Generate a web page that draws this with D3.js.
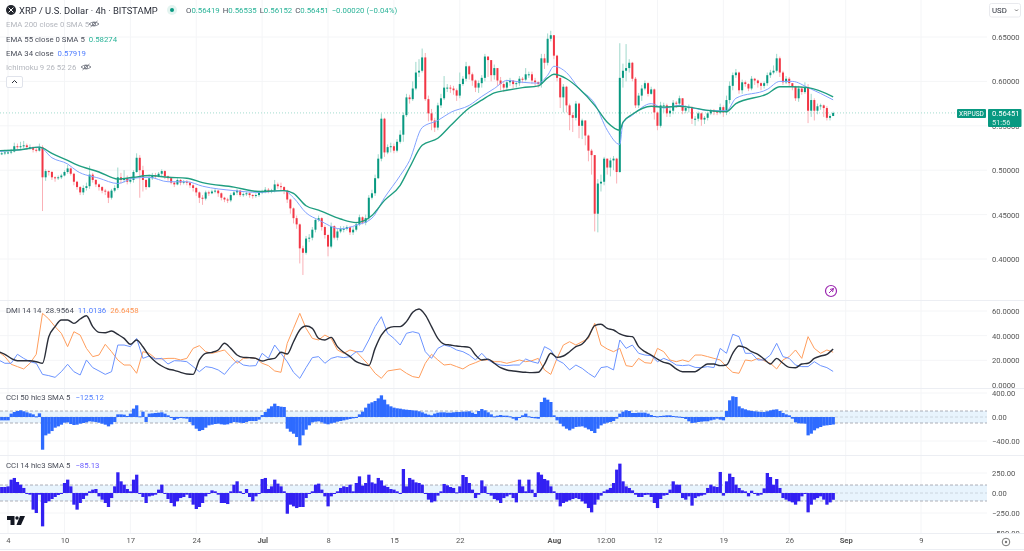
<!DOCTYPE html>
<html>
<head>
<meta charset="utf-8">
<style>
  html, body { margin: 0; padding: 0; background: #fff; }
  svg { display: block; filter: blur(.35px); }
  text { font-family: Roboto, sans-serif; }
  .axis text { font-size: 7.6px; fill: #555; }
  .axis .domain { display: none; }
  .leg { font-size: 7.8px; }
</style>
</head>
<body>
<svg id="chart" width="1024" height="551"></svg>
<script src="https://cdn.jsdelivr.net/npm/d3@7/dist/d3.min.js"></script>
<script>
// 8 hour bars from 3 Jun 2024
const closes = [.519,.519,.520,.520,.521,.527,.526,.527,.528,.526,
.526,.523,.522,.526,.492,.499,.498,.492,.491,.492,
.494,.498,.502,.496,.487,.481,.475,.480,.482,.495,
.489,.484,.481,.477,.476,.469,.477,.480,.492,.489,
.491,.487,.489,.498,.514,.500,.489,.481,.491,.494,
.493,.496,.499,.493,.491,.486,.484,.489,.486,.487,
.486,.483,.480,.475,.469,.468,.475,.474,.476,.477,
.474,.469,.467,.466,.472,.475,.477,.472,.473,.474,
.472,.471,.472,.475,.476,.478,.477,.477,.484,.482,
.481,.477,.467,.457,.446,.439,.412,.407,.423,.424,
.433,.444,.446,.436,.427,.414,.437,.424,.431,.434,
.434,.436,.430,.433,.439,.447,.441,.446,.469,.474,
.491,.513,.558,.520,.526,.527,.522,.532,.540,.562,
.582,.580,.592,.610,.612,.627,.580,.564,.556,.548,
.573,.581,.593,.593,.592,.590,.584,.597,.603,.617,
.608,.601,.593,.598,.604,.628,.624,.607,.615,.601,
.597,.593,.599,.601,.597,.598,.603,.602,.608,.608,
.601,.599,.597,.626,.621,.648,.652,.629,.604,.582,
.594,.573,.562,.559,.575,.550,.556,.539,.522,.517,
.451,.485,.487,.513,.503,.511,.513,.498,.604,.612,
.615,.621,.603,.573,.584,.592,.598,.586,.591,.565,
.550,.573,.573,.564,.567,.576,.575,.581,.567,.570,
.571,.558,.558,.564,.557,.559,.564,.567,.566,.565,
.571,.565,.579,.595,.607,.610,.590,.599,.597,.592,
.603,.601,.598,.595,.598,.607,.610,.612,.626,.610,
.599,.603,.598,.594,.581,.592,.588,.593,.567,.579,
.567,.572,.573,.570,.559,.561,.5645];

const highs = [.522,.522,.523,.523,.524,.531,.530,.532,.533,.530,
.529,.527,.525,.530,.528,.501,.500,.499,.493,.494,
.496,.500,.506,.503,.497,.488,.482,.483,.486,.505,
.497,.490,.485,.482,.479,.477,.479,.483,.503,.497,
.500,.494,.492,.500,.519,.517,.505,.490,.495,.497,
.497,.498,.501,.500,.494,.492,.487,.491,.490,.489,
.489,.487,.484,.481,.476,.472,.477,.477,.478,.479,
.478,.475,.470,.469,.474,.477,.479,.478,.475,.476,
.475,.473,.474,.477,.478,.481,.480,.479,.489,.486,
.486,.482,.478,.468,.458,.449,.440,.415,.426,.428,
.436,.446,.449,.447,.438,.428,.441,.438,.434,.437,
.437,.438,.437,.436,.442,.450,.448,.450,.472,.478,
.495,.518,.564,.559,.529,.531,.530,.535,.545,.565,
.586,.585,.600,.622,.625,.637,.632,.584,.569,.559,
.576,.586,.606,.597,.596,.595,.592,.610,.606,.622,
.618,.610,.602,.601,.607,.631,.628,.621,.619,.612,
.605,.600,.602,.604,.601,.600,.606,.605,.615,.611,
.611,.604,.600,.631,.631,.654,.657,.652,.630,.604,
.597,.595,.575,.565,.578,.576,.558,.556,.540,.524,
.517,.490,.495,.515,.513,.514,.516,.514,.643,.620,
.642,.625,.622,.605,.587,.596,.601,.599,.594,.592,
.566,.577,.576,.575,.570,.579,.578,.584,.581,.573,
.574,.572,.561,.566,.565,.561,.566,.569,.569,.567,
.575,.573,.584,.600,.610,.614,.611,.602,.601,.598,
.606,.604,.602,.599,.600,.610,.613,.618,.631,.628,
.612,.606,.605,.598,.595,.595,.594,.599,.597,.586,
.581,.575,.575,.574,.572,.563,.566];

const lows = [.516,.517,.517,.518,.518,.520,.523,.524,.525,.523,
.523,.520,.520,.521,.454,.488,.494,.489,.487,.489,
.490,.493,.496,.494,.483,.478,.472,.472,.477,.479,
.486,.481,.477,.474,.472,.463,.467,.475,.478,.485,
.486,.484,.485,.486,.497,.469,.476,.478,.480,.489,
.490,.492,.493,.490,.488,.484,.481,.483,.483,.484,
.483,.480,.476,.471,.463,.461,.466,.471,.473,.474,
.470,.466,.464,.463,.464,.471,.472,.470,.470,.471,
.469,.468,.469,.470,.473,.474,.474,.474,.475,.479,
.477,.473,.463,.451,.440,.434,.395,.382,.405,.419,
.421,.430,.442,.432,.423,.403,.412,.422,.421,.429,
.430,.432,.427,.427,.431,.437,.439,.438,.444,.467,
.471,.490,.510,.515,.518,.520,.519,.520,.530,.532,
.560,.575,.578,.590,.605,.610,.578,.555,.545,.543,
.545,.570,.579,.588,.587,.585,.578,.581,.595,.600,
.602,.595,.588,.587,.593,.600,.605,.600,.602,.595,
.590,.588,.590,.595,.592,.593,.595,.598,.600,.604,
.597,.594,.593,.593,.614,.618,.645,.625,.600,.570,
.565,.565,.545,.543,.556,.536,.535,.528,.510,.495,
.431,.430,.476,.483,.495,.493,.500,.485,.497,.593,
.600,.610,.600,.570,.570,.578,.590,.583,.585,.557,
.545,.548,.565,.560,.560,.563,.570,.572,.563,.564,
.565,.552,.550,.555,.550,.552,.556,.562,.562,.562,
.563,.560,.562,.575,.590,.604,.586,.586,.594,.589,
.590,.596,.593,.590,.592,.595,.604,.608,.610,.605,
.596,.597,.594,.590,.578,.577,.585,.586,.553,.560,
.556,.563,.568,.560,.556,.556,.5615];

// moving averages, read at these bars
const emaBars = [0,7,13,17,22,25,32,38,43,48,54,60,65,75,83,91,94,98,102,109,114,119,123,128,131,135,140,144,150,154,158,162,167,172,175,177,181,185,190,194,198,199,202,208,212,217,220,227,232,235,245,249,253,258,266];
const ema55 = [.522,.523,.526,.519,.511,.506,.498,.490,.492,.494,.492,.491,.486,.481,.476,.477,.474,.460,.455,
.445,.441,.449,.466,.483,.503,.528,.536,.550,.570,.579,.587,.590,.593,.595,.604,.608,.603,.592,.573,.554,.545,.554,.563,.572,.571,.572,.571,.567,.566,.575,.586,.594,.594,.593,.5827];
const ema34 = [.521,.523,.526,.514,.507,.499,.491,.485,.491,.492,.487,.487,.482,.477,.475,.477,.469,.452,.444,
.434,.438,.446,.469,.494,.511,.548,.556,.565,.573,.583,.592,.601,.599,.598,.607,.617,.610,.592,.575,.545,.529,.553,.562,.575,.570,.573,.571,.567,.567,.581,.591,.600,.600,.593,.5792];

// DMI, one reading every 2 bars
const adx = [27,24.9,21.6,19.7,19.7,19.7,18.9,17.6,39.2,47.3,52.7,52.7,50,53.5,56.2,47.3,42.7,42.4,43.8,41,37.8,33,36.5,31,23.8,18.9,15.4,13,11.9,10.3,8.9,8.6,20.3,25.7,26.5,28.4,33.8,29.7,24.3,22.4,22.2,21.6,19.5,20.8,21.6,26.5,25.1,
35.1,44.6,47.8,45.9,37.8,36.5,38.6,31.1,26.5,23,18.9,17,15.7,29.7,40.5,45.9,47.3,47.3,51.4,58.9,61.6,56.8,47.3,37.8,33.2,32.4,31.6,31.1,30.5,24.3,20.3,21,17.6,14,12.2,11.4,
10.8,10.3,10,10.3,17,25.7,22.4,23.5,27,31.1,33.2,39.2,48.1,49.2,45.9,44.6,41.4,39.7,39.2,31.1,27,24.3,21,18.4,17,13,10.8,10.8,10.8,14,17,17,15.7,16.2,25.7,31.6,30.3,27,24.9,21,17,21.6,17.6,14.3,14,17,17.6,21.6,23.5,24.9,29.2];
const diPlus = [20.3,17.6,17.6,24.9,21.6,18.9,17.6,8.6,7.6,6.2,10.8,16.8,10.8,8.1,20.3,14.1,11.4,8.6,10.8,32.4,32.4,31.1,37.8,21.6,23.5,21.1,21.6,17,19.7,19.5,18.9,14.9,10.8,14.9,14.1,12.2,8.6,14.9,19.7,16.2,15.4,15.7,25.7,21.6,32.4,25.7,18.9,
10.3,5.4,14.1,22.2,23,17.6,21.6,23,22.2,23,27,27,36.5,47.3,55.4,41.9,37.8,32.4,41.9,43.2,41.9,27,21.6,29.7,32.4,31.1,28.4,27,24.3,20.3,25.7,20.3,17.6,16.2,15.7,16.2,
16.2,21.1,18.9,17.6,31.1,28.4,20.3,17.6,12.2,16.2,13.5,9.5,6.2,14.1,14.9,12.2,36.5,29.7,32.4,25.7,24.3,23.8,18.9,21.6,19.5,16.2,15.7,16.2,14.3,14.1,14.9,14.1,29.7,25.7,41.1,39.2,25.7,25.7,20.3,20.3,24.3,33.8,23,21.6,16.2,14.9,14.9,18.9,15.7,14.1,11];
const diMinus = [27,23,16.8,14.9,13,17.6,24.9,58.1,53.5,47.3,41.9,31.1,43.2,40.5,29.7,23,24.3,33,27,20.3,16.2,16.2,9.5,27,25.7,21.6,21.1,21.6,21.6,20.3,21.6,29.7,31.9,27,25.7,27,28.4,23,17.6,21.6,22.2,21.6,17.6,15.7,11.4,10.3,33.8,
45.9,58.1,45.9,37.8,36.5,40.5,37.8,28.4,25.7,28.4,27,21.6,16.2,9.5,5.4,11.4,12.2,13,9.5,6.8,5.9,17.6,24.9,20.3,16.2,16.8,14.9,13,16.2,18.1,20.3,20.3,18.9,18.9,17.6,18.9,
20.3,18.9,19.7,21.6,12.2,8.6,21.6,32.4,35.1,32.4,35.1,37.8,50,32.4,29.2,27,29.7,15.7,14.9,21.6,18.1,17.6,29.7,27,20.3,18.9,20.3,18.9,24.3,24.3,23,21.6,20.3,14.9,10.3,9.5,20.3,19.5,21.6,19.7,17.6,13,20.3,23,28.4,21.6,39.2,29.7,25.7,28.4,26.6];

// CCI 50, one reading per bar
const cci50 = [-56,-56,-56,-56,56,83,100,111,95,78,
61,44,11,61,-545,-306,-278,-234,-178,-156,
-128,-95,-89,-117,-133,-128,-111,-100,-89,-72,
-78,-83,-95,-111,-128,-156,-122,-83,44,44,
39,17,56,139,195,11,89,-83,56,61,
67,72,78,56,28,-6,-50,-28,-11,-22,
-28,-83,-139,-195,-234,-217,-178,-139,-128,-117,
-111,-122,-128,-122,-100,-83,-89,-95,-100,-83,
-67,-67,-67,-44,33,83,139,178,222,183,
172,167,-195,-245,-278,-334,-473,-306,-211,-139,
-89,-78,-72,-89,-111,-122,-106,-95,-78,-67,
-56,-44,-33,-22,0,44,89,156,222,245,
267,311,361,289,211,178,156,145,139,128,
122,117,111,106,95,78,56,39,28,56,
72,78,78,72,72,78,83,83,89,89,
95,72,50,100,133,111,78,44,11,22,
33,22,22,11,-28,-56,0,28,56,11,
-11,-22,-28,250,322,289,250,28,-56,-111,
-156,-195,-222,-195,-167,-161,-156,-178,-206,-234,
-267,-195,-139,-111,-95,-83,-67,-28,56,89,
111,100,67,67,72,72,72,56,33,17,
11,17,22,28,28,17,11,6,0,-33,
-72,-100,-95,-83,-78,-72,-72,-56,-44,-28,
-44,-56,100,278,345,334,178,145,128,111,
100,95,89,83,83,95,111,122,128,100,
67,44,28,-28,-89,-106,-106,-111,-306,-278,
-222,-189,-167,-145,-139,-133,-125];

// CCI 14, one reading per bar
const cci14 = [75,75,75,83,167,188,138,104,63,0,
-21,-208,-250,-21,-417,-125,-104,-75,-50,-25,
-8,125,167,83,-146,-208,-125,-75,-33,21,
42,50,-42,-83,-125,-175,-63,83,259,146,
104,50,21,167,229,0,-50,-125,-42,-33,
-21,42,104,-8,-75,-125,-167,-104,-63,-50,
-21,-63,-146,-200,-175,-125,-42,0,33,21,
-21,-125,-125,-138,21,104,146,21,-8,50,
-50,-104,-42,-8,175,188,50,83,167,117,
83,21,-259,-146,-167,-188,-175,-175,-63,-8,
21,104,117,42,-42,-167,-42,-8,21,63,
83,75,104,21,125,208,92,125,229,133,
117,188,158,92,75,50,42,21,-8,300,
83,188,167,133,125,104,0,-83,-117,-104,
-33,21,113,96,75,63,8,83,225,200,
125,42,-63,-21,158,83,0,-33,-75,-92,
-125,-63,-42,-21,-63,-117,167,83,21,167,
42,-50,259,229,175,158,83,21,-83,-167,
-125,-108,-92,-75,-63,-75,-104,-133,-188,-242,
-146,-83,-33,21,42,63,125,292,367,146,
83,63,33,-21,-50,-50,-25,-21,-50,-125,
-188,-75,-33,-25,42,146,104,104,-63,-83,
-42,-158,-63,-42,-33,-21,63,104,83,75,
263,-33,146,242,200,104,63,33,21,-42,
29,0,-33,-21,58,250,200,104,175,63,
-63,-83,-104,-117,-146,-104,-42,0,-242,-146,
-83,-63,-42,-83,-146,-117,-85];

// axis ticks
const priceTicks = [.40,.45,.50,.55,.60,.65];
const dmiTicks = [0,20,40,60];
const cci50Ticks = [-400,0,400];
const cci14Ticks = [-500,-250,0,250];
const timeTicks = [[2024,5,4],[2024,5,10],[2024,5,17],[2024,5,24],[2024,6,1],[2024,6,8],[2024,6,15],[2024,6,22],[2024,7,1],[2024,7,6,12],[2024,7,12],[2024,7,19],[2024,7,26],[2024,8,1],[2024,8,9]]
  .map(d => new Date(Date.UTC(...d)));

const lastPrice = .56451;
const chartRight = 987;
const green = '#089981', red = '#f23645';

const svg = d3.select('#chart');
const barTime = i => new Date(Date.UTC(2024, 5, 3) + i * 8 * 3600e3);

const x = d3.scaleUtc()
  .domain([new Date(Date.UTC(2024, 5, 4)), new Date(Date.UTC(2024, 8, 9))])
  .range([8, 921]);
const yPrice = d3.scaleLinear().domain([.40, .65]).range([259, 37]);
const yDmi = d3.scaleLinear().domain([0, 60]).range([385, 311]);
const yCci50 = d3.scaleLinear().domain([-400, 400]).range([441, 393]);
const yCci14 = d3.scaleLinear().domain([-250, 250]).range([513, 473]);

// pane clips
const defs = svg.append('defs');
defs.append('clipPath').attr('id', 'clip-cci14-axis').append('rect')
  .attr('x', chartRight).attr('y', 456).attr('width', 37).attr('height', 77);

// grid
const grid = svg.append('g').attr('stroke', '#f4f5f7').attr('stroke-width', 1);
grid.selectAll('.v').data(timeTicks).join('line').attr('class', 'v')
  .attr('x1', d => x(d)).attr('x2', d => x(d)).attr('y1', 0).attr('y2', 533);
const hLines = [[priceTicks, yPrice], [dmiTicks.slice(1), yDmi], [cci50Ticks, yCci50], [cci14Ticks.slice(1), yCci14]];
hLines.forEach(([ticks, y]) => {
  grid.append('g').selectAll('line').data(ticks).join('line')
    .attr('x1', 0).attr('x2', chartRight).attr('y1', d => y(d)).attr('y2', d => y(d));
});

// pane separators
svg.append('g').attr('stroke', '#eceef3').selectAll('line').data([300, 388, 455, 533, 549]).join('line')
  .attr('x1', 0).attr('x2', 1024).attr('y1', d => d + .5).attr('y2', d => d + .5);

// cci bands
[[yCci50, 100], [yCci14, 100]].forEach(([y, lvl]) => {
  svg.append('rect').attr('x', 0).attr('width', chartRight)
    .attr('y', y(lvl)).attr('height', y(-lvl) - y(lvl)).attr('fill', '#e8f4fd');
  svg.append('g').attr('stroke', '#9a9da6').attr('stroke-dasharray', '3,2').attr('stroke-width', .8)
    .selectAll('line').data([lvl, 0, -lvl]).join('line')
    .attr('x1', 0).attr('x2', chartRight)
    .attr('y1', d => y(d)).attr('y2', d => y(d))
    .attr('opacity', d => d === 0 ? .45 : 1);
});

// last price line
svg.append('line').attr('x1', 0).attr('x2', chartRight)
  .attr('y1', yPrice(lastPrice)).attr('y2', yPrice(lastPrice))
  .attr('stroke', '#a3dbce').attr('stroke-dasharray', '1,2');

// candles
const bars = closes.map((c, i) => ({
  i, c, o: i ? closes[i - 1] : c, h: highs[i], l: lows[i]
}));
const candle = svg.append('g').selectAll('g').data(bars).join('g');
candle.append('line')
  .attr('x1', d => x(barTime(d.i))).attr('x2', d => x(barTime(d.i)))
  .attr('y1', d => yPrice(d.h)).attr('y2', d => yPrice(d.l))
  .attr('stroke', d => d.c >= d.o ? '#9fd8cb' : '#fab0b6').attr('stroke-width', 1);
candle.append('rect')
  .attr('x', d => x(barTime(d.i)) - 1).attr('width', 2)
  .attr('y', d => yPrice(Math.max(d.o, d.c)))
  .attr('height', d => Math.max(1, Math.abs(yPrice(d.o) - yPrice(d.c))))
  .attr('fill', d => d.c >= d.o ? green : red);

// moving averages
const emaLine = d3.line()
  .x((d, i) => x(barTime(emaBars[i]))).y(d => yPrice(d))
  .curve(d3.curveMonotoneX);
svg.append('path').attr('d', emaLine(ema34)).attr('fill', 'none').attr('stroke', '#82a2ff').attr('stroke-width', 1);
svg.append('path').attr('d', emaLine(ema55)).attr('fill', 'none').attr('stroke', '#1f9e80').attr('stroke-width', 1.4);

// DMI
const dmiLine = d3.line().x((d, i) => x(barTime(i * 2))).y(d => yDmi(d));
svg.append('path').attr('d', dmiLine(diMinus)).attr('fill', 'none').attr('stroke', '#ff9d5c').attr('stroke-width', 1);
svg.append('path').attr('d', dmiLine(diPlus)).attr('fill', 'none').attr('stroke', '#6b93ff').attr('stroke-width', 1);
svg.append('path').attr('d', dmiLine.curve(d3.curveMonotoneX)(adx)).attr('fill', 'none').attr('stroke', '#2a2e39').attr('stroke-width', 1.4);

// CCI columns
const barWidth = x(barTime(1)) - x(barTime(0));
const columns = (values, y, color) => {
  svg.append('g').attr('fill', color).selectAll('rect').data(values).join('rect')
    .attr('x', (d, i) => x(barTime(i)) - barWidth / 2)
    .attr('width', barWidth + .15)
    .attr('y', d => Math.min(y(d), y(0)))
    .attr('height', d => Math.max(1, Math.abs(y(d) - y(0))));
};
columns(cci50, yCci50, '#2e6bff');
columns(cci14, yCci14, '#3220f2');

// right axes
const addAxis = (y, ticks, fmt, clip) => {
  const g = svg.append('g').attr('class', 'axis')
    .attr('transform', `translate(${chartRight},0)`)
    .call(d3.axisRight(y).tickValues(ticks).tickSize(0).tickPadding(5).tickFormat(fmt));
  if (clip) svg.append('g').attr('clip-path', `url(#${clip})`).node().appendChild(g.node());
};
addAxis(yPrice, priceTicks, d3.format('.5f'));
addAxis(yDmi, dmiTicks, d3.format('.4f'));
addAxis(yCci50, cci50Ticks, d3.format('.2f'));
addAxis(yCci14, cci14Ticks, d3.format('.2f'), 'clip-cci14-axis');

// time axis
const timeLabel = d => {
  if (d.getUTCHours() === 12) return '12:00';
  if (d.getUTCDate() === 1) return d3.utcFormat('%b')(d);
  return d.getUTCDate();
};
const timeAxis = svg.append('g').attr('class', 'axis').attr('transform', 'translate(0,533)')
  .call(d3.axisBottom(x).tickValues(timeTicks).tickSize(0).tickPadding(5).tickFormat(timeLabel));
timeAxis.selectAll('text').attr('font-weight', d => d.getUTCDate() === 1 ? 700 : 400);

// legend
const legend = (px, py, parts, size) => {
  const t = svg.append('text').attr('x', px).attr('y', py).attr('class', 'leg')
    .attr('dominant-baseline', 'central');
  if (size) t.style('font-size', size + 'px');
  parts.forEach(([s, c, gap]) => {
    const sp = t.append('tspan').attr('fill', c).text(s);
    if (gap) sp.attr('dx', gap);
  });
};
const dark = '#4a4e5a', pale = '#b4b7be', tGreen = '#2ab398', tBlue = '#4f7dff';
legend(19, 10, [['XRP / U.S. Dollar · 4h · BITSTAMP', '#2a2e39']], 9.4);
legend(186, 10, [['O', dark], ['0.56419', tGreen], ['H', dark, 3], ['0.56535', tGreen], ['L', dark, 3], ['0.56152', tGreen], ['C', dark, 3], ['0.56451', tGreen], ['−0.00020 (−0.04%)', tGreen, 3]], 7.8);
legend(6, 24, [['EMA 200 close 0 SMA 5', pale]]);
legend(6, 39, [['EMA 55 close 0 SMA 5', dark], ['0.58274', tGreen, 4]]);
legend(6, 53, [['EMA 34 close', dark], ['0.57919', tBlue, 4]]);
legend(6, 67, [['Ichimoku 9 26 52 26', pale]]);
legend(6, 310, [['DMI 14 14', dark], ['28.9564', dark, 4], ['11.0136', tBlue, 4], ['26.6458', '#ff9350', 4]]);
legend(6, 397, [['CCI 50 hlc3 SMA 5', dark], ['−125.12', tBlue, 5]]);
legend(6, 465, [['CCI 14 hlc3 SMA 5', dark], ['−85.13', '#6a5cff', 5]]);

// symbol badge
svg.append('circle').attr('cx', 11).attr('cy', 10).attr('r', 5).attr('fill', '#23262e');
svg.append('path').attr('d', 'M8.6 7.6L13.4 12.4M13.4 7.6L8.6 12.4').attr('stroke', '#fff').attr('stroke-width', 1);
svg.append('circle').attr('cx', 172).attr('cy', 10).attr('r', 5).attr('fill', '#e3f4f0');
svg.append('circle').attr('cx', 172).attr('cy', 10).attr('r', 2).attr('fill', green);

// hidden eye icons
[[94, 24], [86, 67]].forEach(([cx, cy]) => {
  const e = svg.append('g').attr('transform', `translate(${cx},${cy})`).attr('fill', 'none').attr('stroke', '#6a6d78').attr('stroke-width', .8);
  e.append('path').attr('d', 'M-5 0Q0 -4 5 0Q0 4 -5 0Z');
  e.append('circle').attr('r', 1.6);
  e.append('path').attr('d', 'M-3.5 3L3.5 -3');
});

// collapse button
svg.append('rect').attr('x', 6.5).attr('y', 76.5).attr('width', 16).attr('height', 11).attr('rx', 1.5)
  .attr('fill', '#fff').attr('stroke', '#e0e3eb');
svg.append('path').attr('d', 'M12 83L14.5 80.5L17 83').attr('fill', 'none').attr('stroke', '#2a2e39').attr('stroke-width', 1);

// currency button
svg.append('rect').attr('x', 989.5).attr('y', 3.5).attr('width', 31).attr('height', 13.5).attr('rx', 2)
  .attr('fill', '#fff').attr('stroke', '#e9eaee');
svg.append('text').attr('x', 992).attr('y', 10.5).attr('dominant-baseline', 'central').attr('font-size', 7.8).attr('fill', '#2a2e39').text('USD');
svg.append('path').attr('d', 'M1015 9.5L1016.5 11L1018 9.5').attr('fill', 'none').attr('stroke', '#555').attr('stroke-width', .8);

// last price tags
svg.append('rect').attr('x', 957).attr('y', 109).attr('width', 29).attr('height', 9).attr('rx', 1).attr('fill', green);
svg.append('text').attr('x', 971.5).attr('y', 113.7).attr('text-anchor', 'middle').attr('dominant-baseline', 'central')
  .attr('font-size', 6.6).attr('fill', '#fff').text('XRPUSD');
svg.append('rect').attr('x', 988).attr('y', 109).attr('width', 33.5).attr('height', 18).attr('rx', 1).attr('fill', green);
svg.append('text').attr('x', 992).attr('y', 113.7).attr('dominant-baseline', 'central').attr('font-size', 7.6).attr('fill', '#fff').text('0.56451');
svg.append('text').attr('x', 992).attr('y', 122.3).attr('dominant-baseline', 'central').attr('font-size', 7.4).attr('fill', '#d6f0ea').text('51:56');

// purple marker
const marker = svg.append('g').attr('transform', 'translate(831,291)');
marker.append('circle').attr('r', 5.5).attr('fill', '#fff').attr('stroke', '#9c27b0').attr('stroke-width', 1.2);
marker.append('path').attr('d', 'M-2 2L2.5 -2.5M-1 -1.5L2.5 -2.5L1.5 1').attr('fill', 'none').attr('stroke', '#9c27b0').attr('stroke-width', 1);

// logo
const logo = svg.append('g').attr('fill', '#131722');
logo.append('path').attr('d', 'M7 516H14.5V525H10.5V520H7Z');
logo.append('circle').attr('cx', 17).attr('cy', 518).attr('r', 1.7);
logo.append('path').attr('d', 'M20 516H25L21 525H16.5Z');

// auto scale button
svg.append('circle').attr('cx', 1006).attr('cy', 542).attr('r', 3.8).attr('fill', 'none').attr('stroke', '#777');
svg.append('circle').attr('cx', 1006).attr('cy', 542).attr('r', 1.2).attr('fill', '#777');
</script>
</body>
</html>
